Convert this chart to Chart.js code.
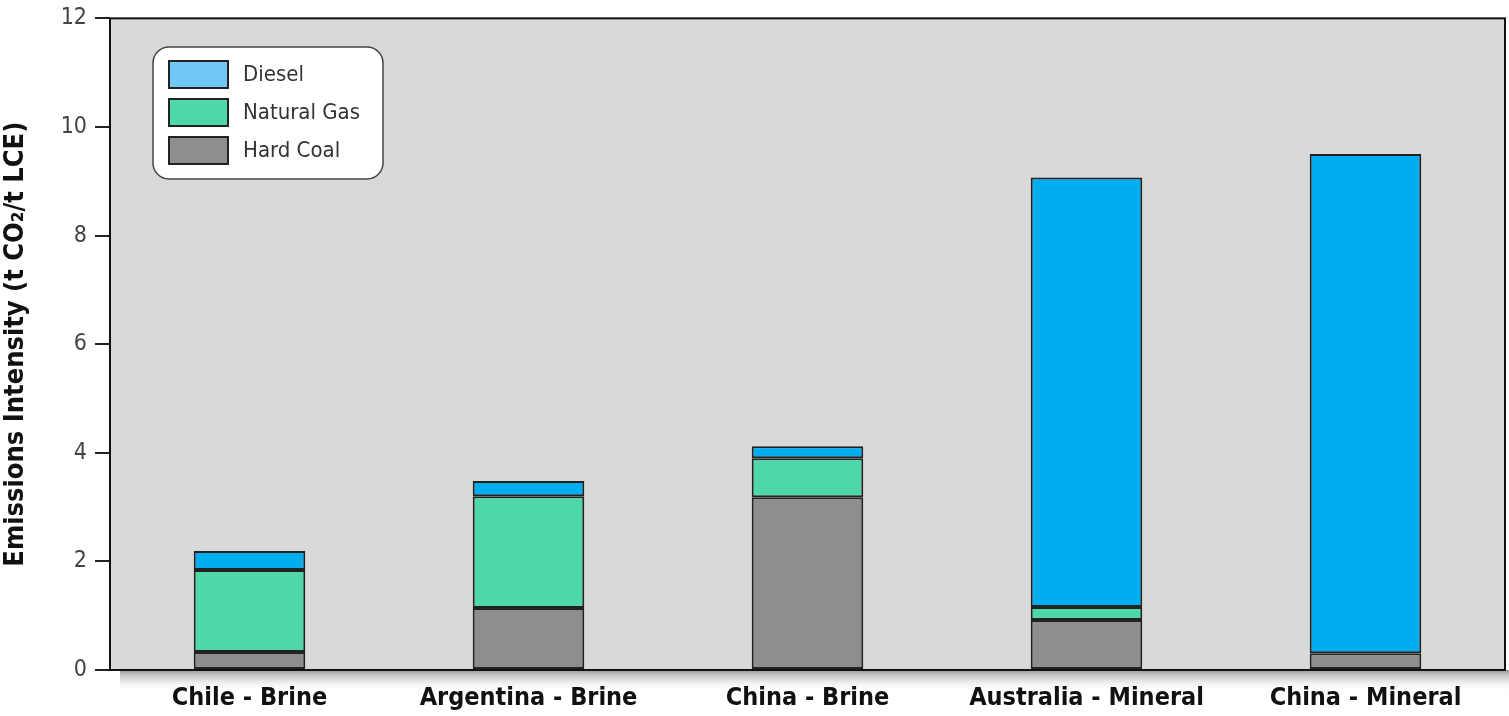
<!DOCTYPE html>
<html>
<head>
<meta charset="utf-8">
<script src="https://cdn.jsdelivr.net/npm/chart.js@4"></script>
<style>
  html, body { margin: 0; padding: 0; background: #fff; }
  #wrap { width: 1509px; height: 716px; }
</style>
</head>
<body>
<div id="wrap"><canvas id="myBarChart"></canvas></div>
<script>
var categories = ['Chile - Brine', 'Argentina - Brine', 'China - Brine', 'Australia - Mineral', 'China - Mineral'];
var hardCoal = [0.33, 1.14, 3.18, 0.92, 0.31];
var naturalGas = [1.51, 2.06, 0.72, 0.24, 0];
var diesel = [0.35, 0.28, 0.22, 7.91, 9.19];
var yTicks = [0, 2, 4, 6, 8, 10, 12];

var FONT = '"Liberation Sans Narrow", "DejaVu Sans Condensed", sans-serif';

// plot background, border and the soft shadow under the x axis
var framePlugin = {
    id: 'frame',
    beforeDraw: function(chart) {
        var c = chart.ctx, a = chart.chartArea;
        c.save();
        c.fillStyle = '#d9d9d9';
        c.fillRect(a.left, a.top, a.right - a.left, a.bottom - a.top);
        var g = c.createLinearGradient(0, a.bottom, 0, a.bottom + 22);
        g.addColorStop(0, 'rgba(120,120,120,0.75)');
        g.addColorStop(1, 'rgba(255,255,255,0)');
        c.fillStyle = g;
        c.fillRect(a.left + 10, a.bottom, chart.width - a.left - 10, 22);
        c.restore();
    },
    afterDatasetsDraw: function(chart) {
        var c = chart.ctx, a = chart.chartArea;
        c.save();
        c.strokeStyle = '#111';
        c.lineWidth = 2;
        c.strokeRect(a.left, a.top, a.right - a.left, a.bottom - a.top);
        c.restore();
    }
};

// legend box inside the plot, top-left
var legendBox = {
    id: 'legendBox',
    afterDraw: function(chart) {
        var c = chart.ctx;
        var x = 153, y = 47, w = 230, h = 132, r = 16;
        c.save();
        c.beginPath();
        c.roundRect(x, y, w, h, r);
        c.fillStyle = '#fff';
        c.fill();
        c.lineWidth = 1.5;
        c.strokeStyle = '#444';
        c.stroke();
        var items = [
            { text: 'Diesel', color: '#6fc8f6' },
            { text: 'Natural Gas', color: '#4ed8aa' },
            { text: 'Hard Coal', color: '#8f8e8e' }
        ];
        c.font = '22px ' + FONT;
        c.textBaseline = 'middle';
        for (var i = 0; i < items.length; i++) {
            var sy = 61 + i * 38;
            c.fillStyle = items[i].color;
            c.fillRect(169, sy, 59, 27);
            c.lineWidth = 2;
            c.strokeStyle = '#222';
            c.strokeRect(169, sy, 59, 27);
            c.fillStyle = '#333';
            c.fillText(items[i].text, 243, sy + 14);
        }
        c.restore();
    }
};

var ctx = document.getElementById('myBarChart').getContext('2d');
var myChart = new Chart(ctx, {
    type: 'bar',
    data: {
        labels: categories,
        datasets: [{
            label: 'Hard Coal',
            data: hardCoal,
            backgroundColor: '#8f8e8e',
            borderColor: '#222',
            borderWidth: 2,
            borderSkipped: false
        }, {
            label: 'Natural Gas',
            data: naturalGas,
            backgroundColor: '#4ed8aa',
            borderColor: '#222',
            borderWidth: 2,
            borderSkipped: false
        }, {
            label: 'Diesel',
            data: diesel,
            backgroundColor: '#00aeef',
            borderColor: '#222',
            borderWidth: 2,
            borderSkipped: false
        }]
    },
    options: {
        responsive: true,
        maintainAspectRatio: false,
        animation: false,
        layout: { padding: { top: 4, right: 4, left: 0, bottom: 0 } },
        datasets: { bar: { barPercentage: 0.4, categoryPercentage: 1 } },
        plugins: { legend: { display: false }, tooltip: { enabled: false } },
        scales: {
            x: {
                stacked: true,
                grid: { display: false },
                border: { display: false },
                ticks: { color: '#111', font: { family: FONT, size: 25, weight: 'bold' }, padding: 5 },
                afterFit: function(s) { s.height = 46; }
            },
            y: {
                stacked: true,
                min: 0,
                max: 12,
                afterBuildTicks: function(s) { s.ticks = yTicks.map(function(v) { return { value: v }; }); },
                grid: { drawOnChartArea: false, drawTicks: true, tickLength: 15, color: '#222', lineWidth: 2 },
                border: { display: false },
                ticks: { color: '#444', font: { family: FONT, size: 23, lineHeight: 0.9 }, padding: 8 },
                title: {
                    display: true,
                    text: 'Emissions Intensity (t CO\u2082/t LCE)',
                    color: '#111',
                    font: { family: FONT, size: 27, weight: 'bold' },
                    padding: { top: 0, bottom: 2 }
                },
                afterFit: function(s) { s.width = 110; }
            }
        }
    },
    plugins: [framePlugin, legendBox]
});
</script>
</body>
</html>
